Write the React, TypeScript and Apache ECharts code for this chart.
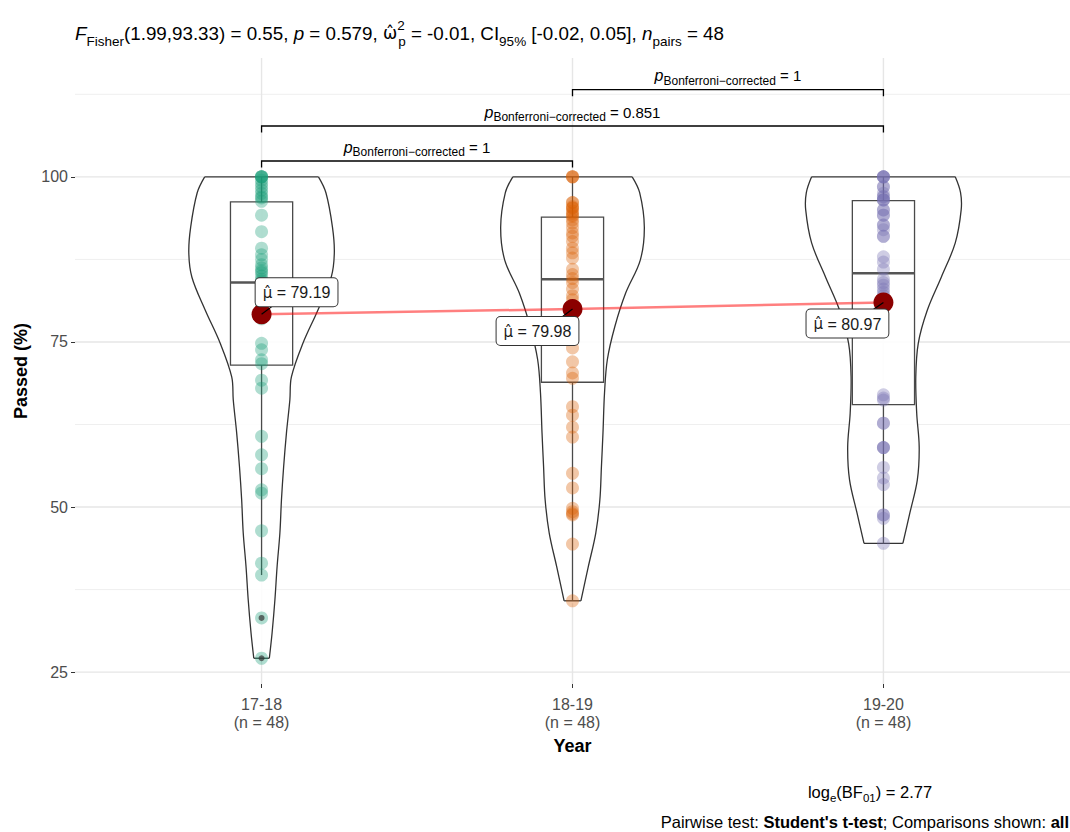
import React, { useEffect, useRef } from 'react';
import * as echarts from 'echarts';

const FONT = '"Liberation Sans", Arial, sans-serif';
const MARKFONT = '"DejaVu Sans", "Liberation Sans", sans-serif';

const categories = ['17-18', '18-19', '19-20'];
const groupSizes = [48, 48, 48];
const groupColors = ['#1B9E77', '#D95F02', '#7570B3'];

const passed1718 = [100, 100, 100, 100, 99.5, 99, 98.5, 98, 97.5, 97, 96.8, 96.3,
  94.2, 91.7, 89.2, 88.2, 87.5, 86.7, 86.2, 85.8, 85.5, 85, 84.5, 84.2,
  83.5, 82.5, 82, 81.5, 80.5, 80, 79.5, 78.5, 74.8, 73.8, 72.3, 71.7,
  69.2, 68.0, 60.7, 57.9, 55.8, 52.6, 52.1, 46.4, 41.5, 39.7, 33.2, 27.1];
const passed1819 = [100, 100, 100, 96.1, 96.1, 95.5, 95.3, 95.3, 94.8, 94.5, 94.2, 94,
  93.5, 93, 92.3, 91.5, 91, 90.2, 89.2, 88.5, 87.7, 86, 85.2, 84.6,
  84, 83, 82, 81.4, 80.5, 79.5, 78.5, 77, 74.1, 72, 70.3, 69.5,
  65.2, 63.9, 62.1, 60.6, 55.1, 52.9, 49.8, 49.3, 49, 48.8, 44.4, 35.8];
const passed1920 = [100, 100, 100, 100, 98.5, 98.5, 97.5, 97, 97, 96.5, 96.5, 96.5,
  95, 95, 94.2, 94.2, 92.7, 92.7, 92, 91, 91, 87.9, 87.1, 86,
  84.5, 84, 83.6, 83, 82.5, 82, 81.5, 81, 80.5, 67, 66.5, 66.2,
  62.7, 62.7, 59, 59, 59, 56, 54.4, 53.4, 48.8, 48.8, 48.3, 44.5];
const groupValues = [passed1718, passed1819, passed1920];

const means = [79.19, 79.98, 80.97];
// [lower whisker, Q1, median, Q3, upper whisker]
const boxStats = [
  [39.7, 71.5, 84.0, 96.2, 100],
  [35.8, 68.9, 84.5, 93.9, 100],
  [44.5, 65.5, 85.4, 96.4, 100],
];
const outliers = [[1, 33.2], [1, 27.1]];

// violin density profile: [value, half width in x-axis units]
const violin1718 = [[100, 0.183], [97.6, 0.207], [92.4, 0.228], [88.5, 0.234], [84.8, 0.224], [79.8, 0.181], [74.8, 0.133], [69.7, 0.096], [66.2, 0.091], [61.2, 0.080], [56.1, 0.071], [51.1, 0.064], [46.1, 0.059], [41, 0.050], [36, 0.043], [31, 0.034], [27.1, 0.025]];
const violin1819 = [[100, 0.192], [97.6, 0.216], [92.4, 0.231], [87.4, 0.218], [82.4, 0.171], [77.3, 0.136], [72.3, 0.112], [67.3, 0.103], [61.2, 0.098], [56.1, 0.093], [51.1, 0.088], [46.1, 0.075], [41, 0.051], [35.8, 0.027]];
const violin1920 = [[100, 0.231], [97.6, 0.248], [95, 0.25], [90, 0.231], [84.8, 0.186], [79.8, 0.141], [74.8, 0.112], [69.7, 0.104], [64.2, 0.107], [59.1, 0.115], [54.1, 0.109], [49.1, 0.085], [44.5, 0.0625]];
const violins = [violin1718, violin1819, violin1920];

const comparisons = [
  { from: 1, to: 2, y: 102.4, p: '1' },
  { from: 1, to: 3, y: 107.7, p: '0.851' },
  { from: 2, to: 3, y: 113.2, p: '1' },
];

const yTicks = [25, 50, 75, 100];
const yMinor = [37.5, 62.5, 87.5, 112.5];
const xTicks = [1, 2, 3];

const labelOffsets = [[35, -22], [-35, 22], [-36, 21]];

export default function App() {
  const ref = useRef<HTMLDivElement>(null);
  useEffect(() => {
    document.body.style.margin = '0';
    const chart = echarts.init(ref.current!, null, { renderer: 'svg' });
    const lineStroke = '#333333';

    const option: any = {
      animation: false,
      backgroundColor: '#ffffff',
      textStyle: { fontFamily: FONT },
      grid: { left: 75, top: 58, width: 998, height: 626, containLabel: false },
      xAxis: {
        type: 'value', min: 0.4, max: 3.6,
        axisLine: { show: false },
        splitLine: { show: false },
        axisTick: { show: true, customValues: xTicks, length: 4, lineStyle: { color: '#333', width: 1 } },
        axisLabel: {
          customValues: xTicks, fontSize: 16, color: '#4d4d4d', lineHeight: 18, margin: 11, fontFamily: FONT,
          formatter: (v: number) => { const i = Math.round(v) - 1; return `${categories[i]}\n(n = ${groupSizes[i]})`; },
        },
        name: 'Year', nameLocation: 'middle', nameGap: 53,
        nameTextStyle: { fontSize: 18, fontWeight: 'bold', color: '#000', fontFamily: FONT },
      },
      yAxis: {
        type: 'value', min: 23.2, max: 118.0,
        axisLine: { show: false },
        splitLine: { show: false },
        axisTick: { show: true, customValues: yTicks, length: 4, lineStyle: { color: '#333', width: 1 } },
        axisLabel: { customValues: yTicks, fontSize: 16, color: '#4d4d4d', margin: 7, fontFamily: FONT },
        name: 'Passed (%)', nameLocation: 'middle', nameGap: 44,
        nameTextStyle: { fontSize: 18, fontWeight: 'bold', color: '#000', fontFamily: FONT },
      },
      graphic: [
        {
          type: 'text', x: 75, y: 33,
          style: {
            text: '{i|F}{sub|Fisher}{n|(1.99,93.33) = 0.55, }{i|p}{n| = 0.579, }{w|\u03C9\u0302}{sup|2}{sub|p}{n| = -0.01, CI}{sub|95%}{n| [-0.02, 0.05], }{i|n}{sub|pairs}{n| = 48}',
            verticalAlign: 'middle', align: 'left',
            rich: {
              n: { fontSize: 18.8, fontFamily: FONT, fill: '#000', lineHeight: 30 },
              i: { fontSize: 18.8, fontFamily: FONT, fill: '#000', fontStyle: 'italic', lineHeight: 30 },
              w: { fontSize: 17, fontFamily: MARKFONT, fill: '#000', lineHeight: 30 },
              sub: { fontSize: 13.5, fontFamily: FONT, fill: '#000', verticalAlign: 'bottom', lineHeight: 16 },
              sup: { fontSize: 13.5, fontFamily: FONT, fill: '#000', verticalAlign: 'top', lineHeight: 16, width: 1 },
            },
          },
        },
        {
          type: 'text', x: 870, y: 792,
          style: {
            text: '{n|log}{sub|e}{n|(BF}{sub|01}{n|) = 2.77}',
            align: 'center', verticalAlign: 'middle',
            rich: {
              n: { fontSize: 16.5, fontFamily: FONT, fill: '#000', lineHeight: 24 },
              sub: { fontSize: 11.5, fontFamily: FONT, fill: '#000', verticalAlign: 'bottom', lineHeight: 13 },
            },
          },
        },
        {
          type: 'text', x: 1069, y: 822,
          style: {
            text: "{n|Pairwise test: }{b|Student's t-test}{n|; Comparisons shown: }{b|all}",
            align: 'right', verticalAlign: 'middle',
            rich: {
              n: { fontSize: 16.5, fontFamily: FONT, fill: '#000' },
              b: { fontSize: 16.5, fontFamily: FONT, fill: '#000', fontWeight: 'bold' },
            },
          },
        },
      ],
      series: [
        {
          type: 'custom', name: 'hgrid', z: 1, silent: true,
          data: [...yTicks.map((v) => [v, 1]), ...yMinor.map((v) => [v, 0])],
          renderItem: (params: any, api: any) => {
            const cs = params.coordSys;
            const y = api.coord([1, api.value(0)])[1];
            const major = api.value(1) === 1;
            return {
              type: 'line', shape: { x1: cs.x, y1: y, x2: cs.x + cs.width, y2: y },
              style: { stroke: major ? '#e6e6e6' : '#efefef', lineWidth: major ? 1.4 : 1 },
            };
          },
        },
        {
          type: 'custom', name: 'vgrid', z: 1, silent: true,
          data: xTicks.map((v) => [v]),
          renderItem: (params: any, api: any) => {
            const cs = params.coordSys;
            const x = api.coord([api.value(0), 50])[0];
            return {
              type: 'line', shape: { x1: x, y1: cs.y, x2: x, y2: cs.y + cs.height },
              style: { stroke: '#e6e6e6', lineWidth: 1.4 },
            };
          },
        },
        {
          type: 'custom', name: 'violin', z: 2, silent: true,
          data: xTicks.map((v) => [v]),
          renderItem: (params: any, api: any) => {
            const i = params.dataIndex;
            const cx = api.value(0);
            const prof = violins[i];
            const left = prof.map(([v, w]) => api.coord([cx - w, v]));
            const right = prof.map(([v, w]) => api.coord([cx + w, v]));
            const poly = left.concat(right.slice().reverse());
            const st = { stroke: lineStroke, lineWidth: 1.3, fill: 'none' };
            const n = left.length - 1;
            return {
              type: 'group',
              children: [
                { type: 'polygon', shape: { points: poly, smooth: 0.3 }, style: { fill: 'rgba(255,255,255,0.85)', stroke: 'none' } },
                { type: 'polyline', shape: { points: left, smooth: 0.35 }, style: st },
                { type: 'polyline', shape: { points: right, smooth: 0.35 }, style: st },
                { type: 'line', shape: { x1: left[0][0], y1: left[0][1], x2: right[0][0], y2: right[0][1] }, style: st },
                { type: 'line', shape: { x1: left[n][0], y1: left[n][1], x2: right[n][0], y2: right[n][1] }, style: st },
              ],
            };
          },
        },
        {
          type: 'custom', name: 'box', z: 3, silent: true,
          data: boxStats.map((s, i) => [i + 1, ...s]),
          renderItem: (params: any, api: any) => {
            const cx = api.value(0);
            const hw = 0.1;
            const lw = api.coord([cx, api.value(1)]);
            const q1 = api.coord([cx, api.value(2)]);
            const md = api.coord([cx, api.value(3)]);
            const q3 = api.coord([cx, api.value(4)]);
            const uw = api.coord([cx, api.value(5)]);
            const xl = api.coord([cx - hw, 50])[0];
            const xr = api.coord([cx + hw, 50])[0];
            const st = { stroke: '#4a4a4a', lineWidth: 1.3, fill: 'none' };
            return {
              type: 'group',
              children: [
                { type: 'line', shape: { x1: lw[0], y1: lw[1], x2: q1[0], y2: q1[1] }, style: st },
                { type: 'line', shape: { x1: q3[0], y1: q3[1], x2: uw[0], y2: uw[1] }, style: st },
                { type: 'rect', shape: { x: xl, y: q3[1], width: xr - xl, height: q1[1] - q3[1] }, style: { fill: 'rgba(255,255,255,0.3)', stroke: '#4a4a4a', lineWidth: 1.3 } },
                { type: 'line', shape: { x1: xl, y1: md[1], x2: xr, y2: md[1] }, style: { stroke: '#555', lineWidth: 2.6 } },
              ],
            };
          },
        },
        ...groupValues.map((vals, i) => ({
          type: 'scatter', name: categories[i], z: 4, silent: true,
          symbolSize: 13,
          itemStyle: { color: groupColors[i], opacity: 0.35 },
          data: vals.map((v) => [i + 1, v]),
        })),
        {
          type: 'scatter', name: 'outliers', z: 5, silent: true,
          symbolSize: 6,
          itemStyle: { color: '#333', opacity: 0.7 },
          data: outliers,
        },
        {
          type: 'line', name: 'meanline', z: 6, silent: true,
          symbol: 'none',
          lineStyle: { color: 'rgba(255,0,0,0.5)', width: 2.5 },
          data: means.map((m, i) => [i + 1, m]),
        },
        {
          type: 'scatter', name: 'means', z: 7, silent: true,
          symbolSize: 20,
          itemStyle: { color: '#8B0000', opacity: 1 },
          data: means.map((m, i) => [i + 1, m]),
        },
        {
          type: 'custom', name: 'meanlabels', z: 8, silent: true,
          data: means.map((m, i) => [i + 1, m]),
          renderItem: (params: any, api: any) => {
            const i = params.dataIndex;
            const m = api.value(1);
            const [x, y] = api.coord([api.value(0), m]);
            const [dx, dy] = labelOffsets[i];
            return {
              type: 'group',
              children: [
                { type: 'line', shape: { x1: x, y1: y, x2: x + dx * 0.3, y2: y + dy * 0.36 }, style: { stroke: '#000', lineWidth: 1.2 } },
                {
                  type: 'text', x: x + dx, y: y + dy,
                  style: {
                    text: '{mu|\u03BC\u0302}{n| = ' + m.toFixed(2) + '}',
                    align: 'center', verticalAlign: 'middle',
                    backgroundColor: '#ffffff', borderColor: '#333', borderWidth: 1, borderRadius: 4,
                    padding: [4, 7, 3, 7],
                    rich: {
                      n: { fontSize: 16, fontFamily: FONT, fill: '#1a1a1a', lineHeight: 21 },
                      mu: { fontSize: 15, fontFamily: MARKFONT, fill: '#1a1a1a', lineHeight: 21 },
                    },
                  },
                },
              ],
            };
          },
        },
        {
          type: 'custom', name: 'brackets', z: 9, silent: true,
          data: comparisons.map((c) => [c.from, c.to, c.y]),
          renderItem: (params: any, api: any) => {
            const c = comparisons[params.dataIndex];
            const y = api.value(2);
            const a = api.coord([api.value(0), y]);
            const b = api.coord([api.value(1), y]);
            const a2 = api.coord([api.value(0), y - 1]);
            const b2 = api.coord([api.value(1), y - 1]);
            return {
              type: 'group',
              children: [
                { type: 'polyline', shape: { points: [a2, a, b, b2] }, style: { stroke: '#000', lineWidth: 1.3, fill: 'none' } },
                {
                  type: 'text', x: (a[0] + b[0]) / 2, y: a[1] - 3,
                  style: {
                    text: `{i|p}{sub|Bonferroni\u2212corrected}{n| = ${c.p}}`,
                    align: 'center', verticalAlign: 'bottom',
                    rich: {
                      i: { fontSize: 16, fontFamily: FONT, fill: '#000', fontStyle: 'italic', lineHeight: 22 },
                      n: { fontSize: 15, fontFamily: FONT, fill: '#000', lineHeight: 22 },
                      sub: { fontSize: 12, fontFamily: FONT, fill: '#000', verticalAlign: 'bottom', lineHeight: 13 },
                    },
                  },
                },
              ],
            };
          },
        },
      ],
    };
    chart.setOption(option);
    return () => chart.dispose();
  }, []);
  return <div ref={ref} style={{ width: 1070, height: 832 }} />;
}
